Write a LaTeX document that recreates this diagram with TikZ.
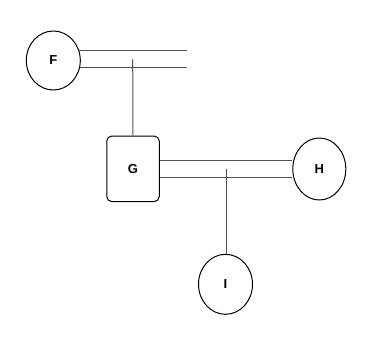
\documentclass[tikz,border=0pt]{standalone}
\usepackage{fontspec}
\setmainfont{Liberation Sans}
\usetikzlibrary{shapes.geometric}
\begin{document}
\begin{tikzpicture}[x=1pt,y=-1pt,
  circ/.style={ellipse,draw=black,line width=1pt,minimum width=54pt,minimum height=59pt,inner sep=0pt,font=\fontsize{13}{15}\selectfont\bfseries},
  boxn/.style={rectangle,rounded corners=5pt,draw=black,line width=1pt,minimum width=52.5pt,minimum height=65.5pt,inner sep=0pt,font=\fontsize{13}{15}\selectfont\bfseries},
  conn/.style={draw=black!68,line width=1pt}]
\useasboundingbox (0,0) rectangle (372,356);
\node[circ] (F) at (53.3,60.5) {F};
\node[boxn] (G) at (133,168.8) {G};
\node[circ,minimum width=53pt,minimum height=62pt] (H) at (319.3,169) {H};
\node[circ,minimum height=60pt] (I) at (225.5,284.3) {I};
\coordinate (fend) at (186.7,60);
\coordinate (fm) at (132.7,59.3);
\coordinate (gm) at (226,168.5);
% F double line
\draw[conn] (F.22.6) -- (F.22.6 -| fend);
\draw[conn] (F.-15.4) -- (F.-15.4 -| fend);
\draw[conn] (fm) -- (G.north);
% G-H double line
\draw[conn] ([yshift=-8.8pt]G.east) -- ([yshift=-8.8pt]G.east -| H.west);
\draw[conn] ([yshift=8.8pt]G.east) -- ([yshift=8.8pt]G.east -| H.west);
\draw[conn] (gm) -- (gm |- I.north);
\end{tikzpicture}
\end{document}
